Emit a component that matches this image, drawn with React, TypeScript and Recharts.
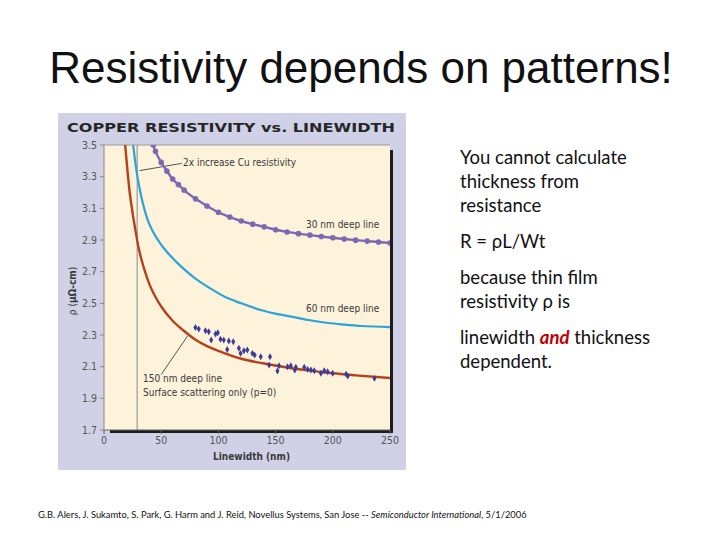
import React from 'react';
import {
  ComposedChart,
  Line,
  Scatter,
  XAxis,
  YAxis,
  CartesianGrid,
  ReferenceLine,
  ZAxis,
} from 'recharts';

// ---- data ----
const xTicks = [0, 50, 100, 150, 200, 250];
const yTicks = [1.7, 1.9, 2.1, 2.3, 2.5, 2.7, 2.9, 3.1, 3.3, 3.5];

// 30 nm deep line (purple, with markers)
const line30X = [43, 45, 50, 55, 60, 65, 70, 80, 90, 100, 110, 120, 130, 140, 150, 160, 170, 180, 190, 200, 210, 220, 230, 240, 250];
const line30Y = [3.5, 3.46, 3.39, 3.335, 3.285, 3.25, 3.215, 3.16, 3.115, 3.075, 3.045, 3.02, 3.0, 2.983, 2.965, 2.951, 2.94, 2.931, 2.922, 2.914, 2.906, 2.899, 2.893, 2.887, 2.881];

// 60 nm deep line (cyan)
const line60X = [25.5, 27, 29, 31, 34, 38, 43, 50, 58, 67, 75, 84, 95, 108, 120, 137, 150, 166, 180, 196, 210, 225, 250];
const line60Y = [3.5, 3.41, 3.31, 3.23, 3.13, 3.03, 2.95, 2.87, 2.8, 2.735, 2.685, 2.635, 2.585, 2.533, 2.5, 2.458, 2.435, 2.413, 2.393, 2.376, 2.366, 2.357, 2.35];

// 150 nm deep line (red-brown)
const line150X = [18.5, 20, 22, 25, 28, 30, 35, 40, 45, 50, 60, 70, 80, 90, 100, 120, 140, 160, 180, 200, 220, 250];
const line150Y = [3.5, 3.38, 3.23, 3.07, 2.94, 2.86, 2.72, 2.615, 2.54, 2.48, 2.39, 2.325, 2.27, 2.23, 2.2, 2.15, 2.12, 2.095, 2.075, 2.058, 2.045, 2.028];

// measured points (blue diamonds)
const measX = [79.9, 82.8, 88.7, 91.6, 97.5, 99.5, 93.7, 101.8, 104.7, 109.1, 113.0, 107.7, 117.9, 122.3, 125.3, 119.4, 129.7, 131.7, 137.0, 145.1, 144.3, 153.0, 151.6, 160.4, 163.3, 167.7, 166.8, 175.0, 178.0, 180.9, 183.8, 189.6, 192.5, 195.5, 199.9, 211.6, 213.1, 236.4];
const measY = [2.348, 2.338, 2.327, 2.321, 2.306, 2.314, 2.268, 2.273, 2.268, 2.262, 2.257, 2.209, 2.216, 2.201, 2.205, 2.184, 2.184, 2.173, 2.163, 2.163, 2.11, 2.106, 2.072, 2.1, 2.106, 2.096, 2.079, 2.096, 2.083, 2.079, 2.074, 2.058, 2.074, 2.068, 2.058, 2.053, 2.041, 2.026];

const cuLimitX = 29;

const toPoints = (xs: number[], ys: number[]) => xs.map((x, i) => ({ x, y: ys[i] }));

const data30 = toPoints(line30X, line30Y);
const data60 = toPoints(line60X, line60Y);
const data150 = toPoints(line150X, line150Y);
const dataMeas = toPoints(measX, measY);

const narrow = '"Liberation Sans Narrow", "DejaVu Sans Condensed", "Liberation Sans", sans-serif';
const bodyFont = 'Lato, "Open Sans", "Liberation Sans", sans-serif';

const PURPLE = '#7c68b4';
const CYAN = '#2ba3d9';
const RED = '#b4401c';
const BLUE = '#3a3c9c';

const annot: React.CSSProperties = {
  position: 'absolute',
  fontFamily: narrow,
  fontSize: 10,
  color: '#3a3a3a',
  whiteSpace: 'nowrap',
  lineHeight: '12px',
};

const rightLine = (top: number): React.CSSProperties => ({
  position: 'absolute',
  left: 460,
  top,
  fontFamily: bodyFont,
  fontSize: 18.5,
  color: '#111',
  whiteSpace: 'nowrap',
  lineHeight: '20px',
});

export default function App() {
  return (
    <div
      style={{
        position: 'absolute',
        left: 0,
        top: 0,
        width: 720,
        height: 540,
        background: '#ffffff',
        overflow: 'hidden',
      }}
    >
      {/* slide title */}
      <div
        style={{
          position: 'absolute',
          left: 0,
          width: 722,
          top: 42,
          textAlign: 'center',
          fontFamily: '"Liberation Sans", Arial, sans-serif',
          fontSize: 44,
          color: '#111',
          lineHeight: '52px',
          whiteSpace: 'nowrap',
        }}
      >
        Resistivity depends on patterns!
      </div>

      {/* chart panel */}
      <div style={{ position: 'absolute', left: 58, top: 113, width: 348, height: 357, background: '#d0d1e7' }} />
      <svg style={{ position: 'absolute', left: 58, top: 113 }} width={348} height={30}>
        <text
          x={9}
          y={19}
          textLength={328}
          lengthAdjust="spacingAndGlyphs"
          fontFamily='"DejaVu Sans", sans-serif'
          fontWeight="bold"
          fontSize={12.5}
          fill="#262626"
        >
          COPPER RESISTIVITY vs. LINEWIDTH
        </text>
      </svg>
      {/* drop shadow of the plot frame */}
      <div style={{ position: 'absolute', left: 110, top: 150, width: 283, height: 283, background: '#1c1c1c' }} />

      <div style={{ position: 'absolute', left: 58, top: 113 }}>
        <ComposedChart width={348} height={357} margin={{ top: 32, right: 16, bottom: 0, left: 0 }}>
          <CartesianGrid horizontal={false} vertical={false} fill="#fdf2da" stroke="none" />
          <XAxis
            type="number"
            dataKey="x"
            domain={[0, 250]}
            ticks={xTicks}
            height={40}
            allowDataOverflow
            tickSize={4}
            tickMargin={3}
            stroke="#666"
            tick={{ fill: '#555', fontSize: 10.5, fontFamily: narrow }}
          />
          <YAxis
            type="number"
            dataKey="y"
            domain={[1.7, 3.5]}
            ticks={yTicks}
            width={46}
            allowDataOverflow
            tickSize={4}
            tickMargin={3}
            stroke="#888"
            tickFormatter={(v: number) => v.toFixed(1)}
            tick={{ fill: '#555', fontSize: 10.5, fontFamily: narrow }}
          />
          <ZAxis range={[14, 14]} />
          <ReferenceLine y={3.5} stroke="#9a9a9a" strokeWidth={1} />
          <ReferenceLine x={cuLimitX} stroke="#9a9a9a" strokeWidth={1.2} />
          <ReferenceLine
            segment={[{ x: 31, y: 3.338 }, { x: 68, y: 3.384 }]}
            stroke="#555"
            strokeWidth={1}
            ifOverflow="visible"
          />
          <ReferenceLine
            segment={[{ x: 73, y: 2.293 }, { x: 50, y: 2.05 }]}
            stroke="#555"
            strokeWidth={1}
            ifOverflow="visible"
          />
          <Line
            data={data150}
            dataKey="y"
            type="monotone"
            stroke={RED}
            strokeWidth={2.4}
            dot={false}
            isAnimationActive={false}
          />
          <Line
            data={data60}
            dataKey="y"
            type="monotone"
            stroke={CYAN}
            strokeWidth={2.2}
            dot={false}
            isAnimationActive={false}
          />
          <Line
            data={data30}
            dataKey="y"
            type="monotone"
            stroke={PURPLE}
            strokeWidth={2.4}
            dot={{ r: 1.6, fill: PURPLE, stroke: PURPLE }}
            isAnimationActive={false}
          />
          <Scatter data={dataMeas} dataKey="y" fill={BLUE} shape="diamond" isAnimationActive={false} />
        </ComposedChart>
      </div>

      {/* chart annotations */}
      <div style={{ ...annot, left: 183, top: 157 }}>2x increase Cu resistivity</div>
      <div style={{ ...annot, left: 306, top: 219 }}>30 nm deep line</div>
      <div style={{ ...annot, left: 306, top: 303 }}>60 nm deep line</div>
      <div style={{ ...annot, left: 143, top: 373 }}>150 nm deep line</div>
      <div style={{ ...annot, left: 143, top: 387 }}>Surface scattering only (p=0)</div>
      <div style={{ ...annot, left: 213, top: 451, fontWeight: 'bold', color: '#3a3a3a' }}>Linewidth (nm)</div>
      <div
        style={{
          ...annot,
          left: 43,
          top: 285,
          width: 60,
          textAlign: 'center',
          transform: 'rotate(-90deg)',
        }}
      >
        ρ (<b>μΩ-cm</b>)
      </div>

      {/* right-hand text */}
      <div style={rightLine(147)}>You cannot calculate</div>
      <div style={rightLine(171)}>thickness from</div>
      <div style={rightLine(195)}>resistance</div>
      <div style={rightLine(231)}>R = ρL/Wt</div>
      <div style={rightLine(267)}>because thin film</div>
      <div style={rightLine(291)}>resistivity ρ is</div>
      <div style={rightLine(327)}>
        linewidth <b style={{ color: '#c00000', fontStyle: 'italic' }}>and</b> thickness
      </div>
      <div style={rightLine(351)}>dependent.</div>

      {/* footer */}
      <div
        style={{
          position: 'absolute',
          left: 38,
          top: 509,
          fontFamily: bodyFont,
          fontSize: 9.35,
          color: '#111',
          whiteSpace: 'nowrap',
          lineHeight: '12px',
        }}
      >
        G.B. Alers, J. Sukamto, S. Park, G. Harm and J. Reid, Novellus Systems, San Jose -- <i>Semiconductor International</i>, 5/1/2006
      </div>
    </div>
  );
}
